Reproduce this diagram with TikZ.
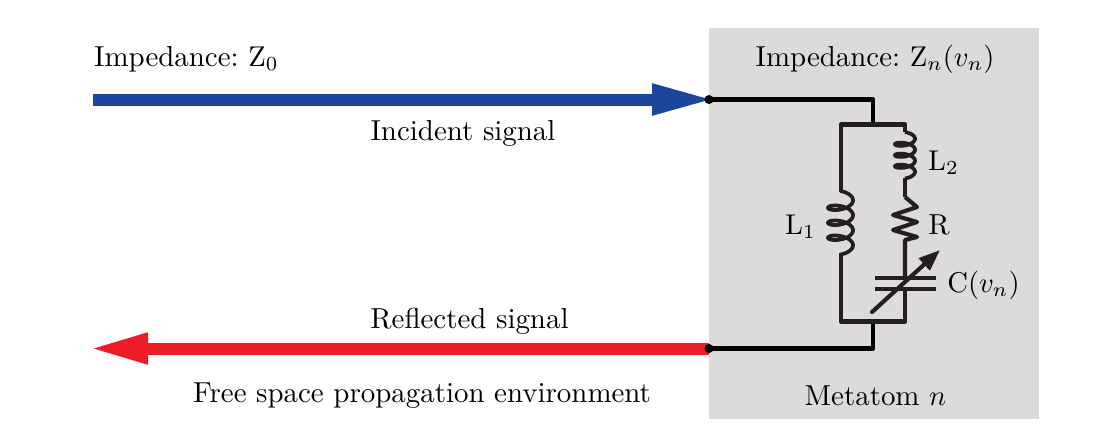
\documentclass[tikz,border=0pt]{standalone}
\usepackage{amsmath}
\usetikzlibrary{arrows.meta}
\definecolor{incblue}{rgb}{0.11,0.27,0.61}
\definecolor{refred}{rgb}{0.93,0.11,0.15}
\definecolor{metagray}{rgb}{0.863,0.859,0.855}
\definecolor{circdark}{rgb}{0.137,0.122,0.125}
\tikzset{
  wire/.style={line width=1.7pt,color=black,line join=round},
  circ/.style={line width=1.7pt,color=circdark,line join=round},
  thincirc/.style={line width=1.45pt,color=circdark,line join=round},
  coil/.style={line width=1.3pt,color=circdark},
  incarrow/.style={line width=4.2pt,color=incblue,-{Triangle[length=22pt,width=10pt]}},
  refarrow/.style={line width=4.2pt,color=refred,-{Triangle[length=20.7pt,width=10pt]}},
  every node/.style={font=\fontsize{10.12}{12}\selectfont},
}
\begin{document}
\begin{tikzpicture}[x=0.35pt,y=0.35pt,yscale=-1,xscale=1]
\useasboundingbox (0,0) rectangle (1118,432);

%Shape: Metatom box
\fill [metagray] (709,28) rectangle (1039,419);

%Coordinates of the ports and rails
\coordinate (incstart) at (93,99.5);
\coordinate (inctip) at (715,99.5);
\coordinate (reftail) at (709,348.5);
\coordinate (reftip) at (89,348.5);
\coordinate (porttop) at (709,99.5);
\coordinate (portbot) at (709,348.5);
\coordinate (cornertop) at (873,99.5);
\coordinate (cornerbot) at (873,348.5);
\coordinate (railtop) at (873,124.5);
\coordinate (railbot) at (873,321.5);
\coordinate (topleft) at (841,124.5);
\coordinate (topright) at (905,124.5);
\coordinate (botleft) at (841,321.5);
\coordinate (botright) at (905,321.5);

%Straight Lines: signals
\draw [incarrow] (incstart) -- (inctip);
\draw [refarrow] (reftail) -- (reftip);

%Straight Lines: feed wires
\draw [wire] (porttop) -- (cornertop) -- (railtop);
\draw [wire] (portbot) -- (cornerbot) -- (railbot);
\fill (porttop) circle (4.5);
\fill (portbot) circle (4.5);

%Straight Lines: rails
\draw [circ] (841,192) -- (topleft) -- (topright) -- (905,132);
\draw [circ] (841,253) -- (botleft) -- (botright) -- (905,289);
\draw [circ] (905,178) -- (905,197);

%Curve Lines: L1 coil
\draw [coil] plot[domain=-90:1170,samples=160,smooth] ({840.5+12.5*cos(\x)},{191+5.5+(\x+90)/360*15+5.5*sin(\x)});
%Curve Lines: L2 coil
\draw [coil] plot[domain=-90:1170,samples=160,smooth] ({905+10*cos(\x)},{132+4+(\x+90)/360*11+4*sin(\x)});

%Straight Lines: R zigzag
\draw [thincirc] (905,197) -- (917,207) -- (893,215) -- (917,222) -- (893,230) -- (917,237) -- (905,240) -- (905,278);

%Straight Lines: capacitor
\draw [thincirc] (875,278) -- (936,278);
\draw [thincirc] (875,289) -- (936,289);
\draw [thincirc,line cap=round,-{Triangle[length=7.5pt,width=5.5pt]}] (872,312) -- (940,250);

% Text Node
\draw (84,59) node [anchor=west] (zfree) {Impedance:\ $\mathrm{Z}_0$};
% Text Node
\draw (875,59.5) node (zmeta) {Impedance:\ $\mathrm{Z}_n(v_n)$};
% Text Node
\draw (463,133) node (inclabel) {Incident signal};
% Text Node
\draw (469.5,321) node (reflabel) {Reflected signal};
% Text Node
\draw (422,395.5) node (freelabel) {Free space propagation environment};
% Text Node
\draw (875.5,395.5) node (metalabel) {Metatom $n$};
% Text Node
\draw (800.5,227) node (lonelabel) {$\mathrm{L}_1$};
% Text Node
\draw (943.5,163) node (ltwolabel) {$\mathrm{L}_2$};
% Text Node
\draw (939,225) node (rlabel) {R};
% Text Node
\draw (983.5,285) node (clabel) {$\mathrm{C}(v_n)$};

\end{tikzpicture}
\end{document}
